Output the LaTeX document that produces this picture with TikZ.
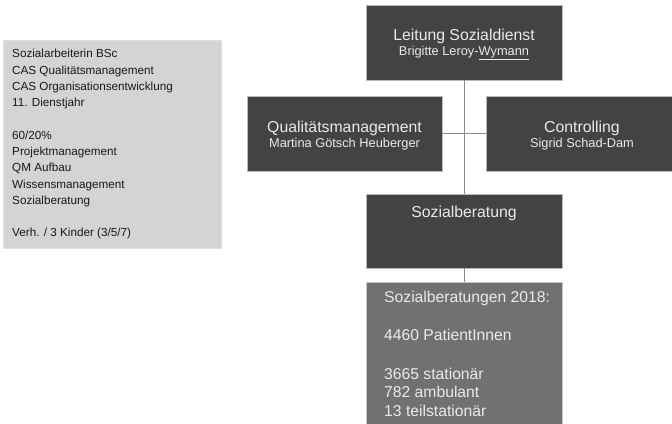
\documentclass[tikz,border=0pt]{standalone}
\usepackage{fontspec}
\setmainfont{Liberation Sans}
\definecolor{darkbox}{HTML}{434343}
\definecolor{statbox}{HTML}{717171}
\definecolor{leftbox}{HTML}{D4D4D4}
\definecolor{boxtext}{HTML}{EAEAEA}
\definecolor{linkgray}{HTML}{8A8A8A}
\begin{document}
\begin{tikzpicture}[x=1bp,y=-1bp,
  orgbox/.style={fill=darkbox,draw=gray!55,line width=0.6bp,inner sep=0pt},
  titletext/.style={text=boxtext,inner sep=0pt,anchor=base,font=\fontsize{15.8bp}{19bp}\selectfont},
  subtext/.style={text=boxtext,inner sep=0pt,anchor=base,font=\fontsize{12.8bp}{15bp}\selectfont},
  link/.style={draw=linkgray,line width=1bp}]
\useasboundingbox (0,0) rectangle (672,423);
\fill[white] (0,0) rectangle (672,423);
% left info box
\node[fill=leftbox,draw=gray!25,line width=0.6bp,minimum width=218bp,minimum height=208bp,inner sep=0pt] (info) at (112,144) {};
\node[anchor=north west,inner sep=0pt,align=left,text=black!90,font=\fontsize{11.7bp}{16.27bp}\selectfont] (infotext) at (12,49.2)
 {Sozialarbeiterin BSc\\CAS Qualitätsmanagement\\CAS Organisationsentwicklung\\11. Dienstjahr\\[16.27bp]60/20\%\\Projektmanagement\\QM Aufbau\\Wissensmanagement\\Sozialberatung\\[16.27bp]Verh. / 3 Kinder (3/5/7)};
% org boxes
\node[orgbox,minimum width=196bp,minimum height=75bp] (lead) at (464,42.5) {};
\node[titletext] (leadtitle) at (464,40) {Leitung Sozialdienst};
\node[subtext] (leadsub) at (464,55) {Brigitte Leroy-\underline{Wymann}};
\node[orgbox,minimum width=195bp,minimum height=75bp] (qm) at (344.5,133.5) {};
\node[titletext] (qmtitle) at (344.5,132) {Qualitätsmanagement};
\node[subtext] (qmsub) at (344.5,147) {Martina Götsch Heuberger};
\node[orgbox,minimum width=194bp,minimum height=75bp] (ctrl) at (583,133.5) {};
\node[titletext] (ctrltitle) at (582,132) {Controlling};
\node[subtext] (ctrlsub) at (582,147) {Sigrid Schad-Dam};
\node[orgbox,minimum width=196bp,minimum height=74bp] (sb) at (464,231) {};
\node[titletext] (sbtext) at (464,217.5) {Sozialberatung};
\node[fill=statbox,draw=gray!45,line width=0.6bp,minimum width=196bp,minimum height=150bp,inner sep=0pt] (stats) at (464,357) {};
\node[anchor=north west,inner sep=0pt,align=left,text=boxtext,font=\fontsize{15.7bp}{18.5bp}\selectfont] (statstext) at (384,290.5)
 {Sozialberatungen 2018:\\[20bp]4460 PatientInnen\\[20bp]3665 stationär\\782 ambulant\\13 teilstationär};
% connectors
\draw[link] (lead.south) -- (sb.north);
\draw[link] (qm.east) -- (ctrl.west);
\draw[link] (sb.south) -- (stats.north);
\end{tikzpicture}
\end{document}
